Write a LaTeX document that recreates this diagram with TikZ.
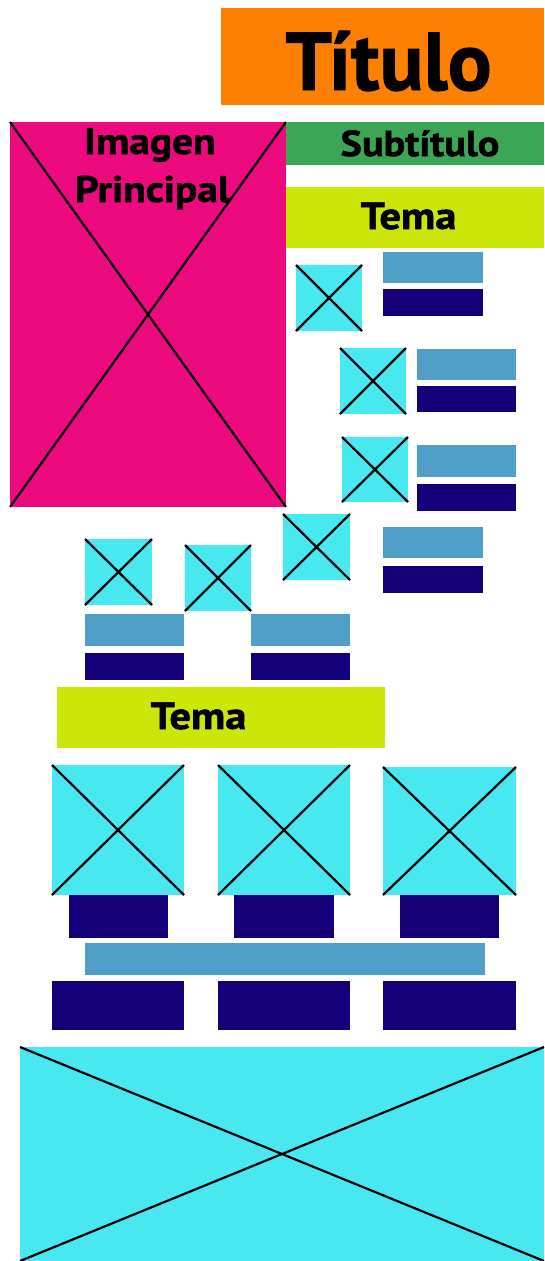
\documentclass[tikz,border=0pt]{standalone}
\usepackage{fontspec}
\setmainfont{PT Sans}
\newfontfamily\largo[FakeStretch=1.12, FakeBold=1.5]{PT Sans}
\newfontfamily\grosso[FakeBold=1.2]{PT Sans}
\definecolor{laranja}{HTML}{FF7F00}
\definecolor{rosa}{HTML}{EC0A7E}
\definecolor{verde}{HTML}{3DA556}
\definecolor{lima}{HTML}{CDE60A}
\definecolor{ciano}{HTML}{48E8F0}
\definecolor{azulclaro}{HTML}{4F9FC9}
\definecolor{azulescuro}{HTML}{16007A}

\begin{document}
\begin{tikzpicture}[x=1pt, y=-1pt,
    every node/.style={inner sep=0pt, outer sep=0pt},
    bloco/.style n args={2}{anchor=north west, minimum width=#1pt, minimum height=#2pt},
    cruz/.style={line width=2.2pt, black},
    rotulo/.style={anchor=base, font=\largo\bfseries\fontsize{#1}{#1}\selectfont}]
    \useasboundingbox (0,0) rectangle (544,1261);
    % cabecalho
    \node[bloco={323}{97}, fill=laranja] (titulo) at (221,8) {};
    \node[anchor=base, font=\grosso\bfseries\fontsize{82}{82}\selectfont] at (388.5,90) {Título};
    \node[bloco={276}{385}, fill=rosa] (principal) at (10,122) {};
    \draw[cruz] (principal.north west) -- (principal.south east) (principal.north east) -- (principal.south west);
    \node[rotulo=37] at (150,154) {Imagen};
    \node[rotulo=37] at (152.5,202) {Principal};
    \node[bloco={258}{43}, fill=verde] (subtitulo) at (286,122) {};
    \node[rotulo=36] at (420,156) {Subtítulo};
    \node[bloco={258}{61}, fill=lima] (tema1) at (286,187) {};
    \node[rotulo=38] at (408.5,229) {Tema};
    \node[bloco={328}{61}, fill=lima] (tema2) at (57,687) {};
    \node[rotulo=38] at (198.5,729) {Tema};
    % fotos com X
    \foreach \n/\x/\y/\w/\h in {f1/296/265/66/66, f2/340/348/66/66, f3/342/437/66/65,
        f4/283/514/67/66, f5/85/539/67/66, f6/185/545/66/66,
        f7/52/765/132/130, f8/218/765/132/130, f9/383/767/133/128, f10/20/1047/524/214} {
        \node[bloco={\w}{\h}, fill=ciano] (\n) at (\x,\y) {};
        \draw[cruz] (\n.north west) -- (\n.south east) (\n.north east) -- (\n.south west);
    }
    % barras claras e escuras
    \foreach \n/\x/\y/\w/\h in {c1/383/252/100/31, c2/417/349/99/31, c3/417/445/99/32,
        c4/383/527/100/31, c5/85/614/99/32, c6/251/614/99/32, c7/85/943/400/32}
        \node[bloco={\w}{\h}, fill=azulclaro] (\n) at (\x,\y) {};
    \foreach \n/\x/\y/\w/\h in {e1/383/289/100/27, e2/417/386/99/26, e3/417/484/99/27,
        e4/383/566/100/27, e5/85/653/99/27, e6/251/653/99/27,
        e7/69/895/99/43, e8/234/895/100/43, e9/400/895/99/43,
        e10/52/981/132/49, e11/218/981/132/49, e12/383/981/133/49}
        \node[bloco={\w}{\h}, fill=azulescuro] (\n) at (\x,\y) {};
\end{tikzpicture}
\end{document}
